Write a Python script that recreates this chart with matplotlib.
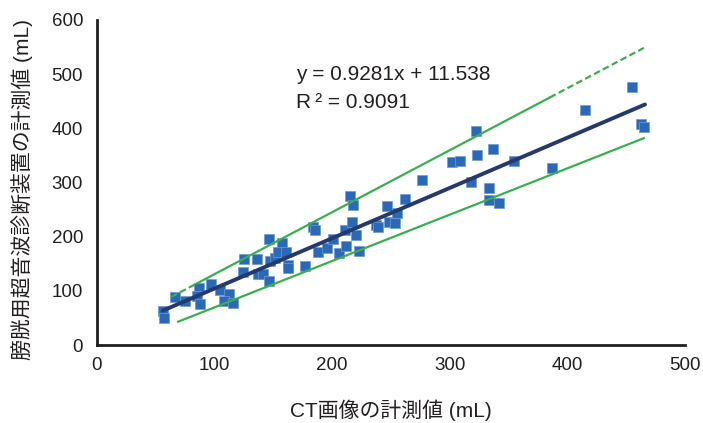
import numpy as np
import matplotlib
matplotlib.use('Agg')
import matplotlib.pyplot as plt

plt.rcParams['font.family'] = ['Liberation Sans', 'Noto Sans CJK JP', 'DejaVu Sans']

# ==========================================
# DATA
# ==========================================
ct_ml = [56, 57, 66, 75, 87, 85, 88, 97, 105, 112, 108, 116,
         125, 124, 136, 137, 141, 146, 146, 147, 151, 157, 154, 161,
         162, 162, 177, 184, 185, 188, 196, 201, 206, 212, 211, 215,
         218, 217, 220, 223, 237, 239, 247, 248, 253, 255, 262, 276,
         302, 309, 322, 323, 318, 337, 333, 333, 342, 355, 387, 415,
         455, 463, 465]
us_ml = [63, 50, 89, 81, 105, 91, 75, 113, 102, 94, 81, 78,
         158, 134, 159, 132, 131, 119, 196, 155, 160, 189, 172, 171,
         148, 143, 145, 218, 212, 171, 180, 196, 169, 182, 213, 275,
         259, 228, 203, 174, 221, 217, 257, 228, 225, 243, 269, 305,
         338, 340, 395, 351, 301, 362, 289, 267, 262, 340, 327, 434,
         476, 408, 402]

slope = 0.9281
intercept = 11.538
r2 = 0.9091
fit_x = [56, 466]

# green guide lines (end points)
upper_dash1_x = [63, 85]
upper_dash1_y = [88.6, 113.7]
upper_solid_x = [85, 385]
upper_solid_y = [113.7, 456.9]
upper_dash2_x = [385, 465]
upper_dash2_y = [456.9, 548.5]
lower_x = [69, 465]
lower_y = [43, 381.8]

xticks = [0, 100, 200, 300, 400, 500]
yticks = [0, 100, 200, 300, 400, 500, 600]

# ==========================================
# PLOT
# ==========================================
fig = plt.figure(figsize=(7.03, 4.23), dpi=100)
ax = fig.add_axes([97 / 703, 1 - 345 / 423, (685 - 97) / 703, (345 - 20) / 423])

ax.scatter(ct_ml, us_ml, marker='s', s=50, color='#2a69b6',
           edgecolors='#6f9ad4', linewidths=0.5, zorder=2)

green = '#3bae4f'
ax.plot(upper_dash1_x, upper_dash1_y, color=green, lw=1.6, dashes=(3, 1.5), zorder=3)
ax.plot(upper_solid_x, upper_solid_y, color=green, lw=1.6, zorder=3)
ax.plot(upper_dash2_x, upper_dash2_y, color=green, lw=1.6, dashes=(3, 1.5), zorder=3)
ax.plot(lower_x, lower_y, color=green, lw=1.6, zorder=3)

fit_y = [slope * v + intercept for v in fit_x]
ax.plot(fit_x, fit_y, color='#243a6c', lw=2.8, solid_capstyle='round', zorder=4)

# equation text, placed in pixel coords from top-left
fig.text(296 / 703, 1 - 75 / 423, f'y = {slope}x + {intercept}', fontsize=15,
         color='#231f20', va='center', ha='left')
fig.text(296 / 703, 1 - 103 / 423, f'R\u2009² = {r2}', fontsize=15,
         color='#231f20', va='center', ha='left')

ax.set_xlim(0, 500)
ax.set_ylim(0, 600)
ax.set_xticks(xticks)
ax.set_yticks(yticks)
ax.tick_params(length=0, labelsize=13.5, colors='#231f20')
ax.tick_params(axis='y', pad=10)
ax.tick_params(axis='x', pad=9)

for side in ['top', 'right']:
    ax.spines[side].set_visible(False)
for side in ['left', 'bottom']:
    ax.spines[side].set_linewidth(2)
    ax.spines[side].set_color('#231f20')

fig.text(391 / 703, 1 - 410 / 423, 'CT画像の計測値 (mL)', fontsize=15,
         ha='center', va='center', color='#231f20')
fig.text(22 / 703, 1 - 190 / 423, '膀胱用超音波診断装置の計測値 (mL)', fontsize=15,
         ha='center', va='center', rotation=90, color='#231f20')

fig.savefig('out.png', dpi=100)
